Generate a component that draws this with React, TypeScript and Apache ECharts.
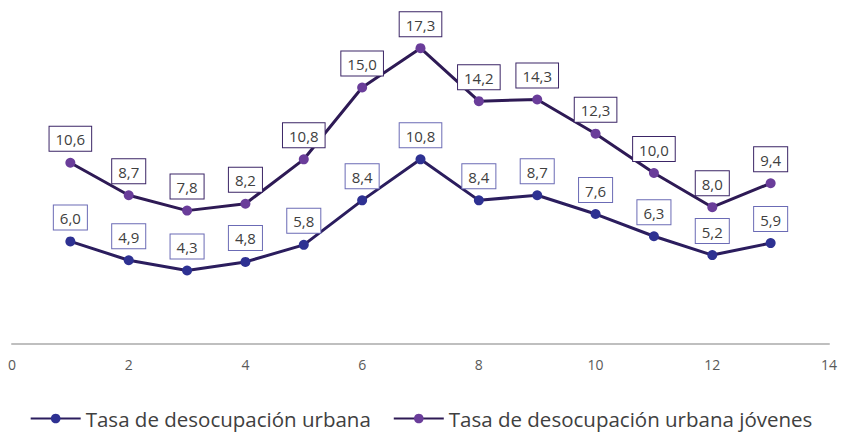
import React, { useEffect, useRef } from "react";
import * as echarts from "echarts";

const xValues = [1, 2, 3, 4, 5, 6, 7, 8, 9, 10, 11, 12, 13];
const urbana = [6.0, 4.9, 4.3, 4.8, 5.8, 8.4, 10.8, 8.4, 8.7, 7.6, 6.3, 5.2, 5.9];
const jovenes = [10.6, 8.7, 7.8, 8.2, 10.8, 15.0, 17.3, 14.2, 14.3, 12.3, 10.0, 8.0, 9.4];
const seriesNames = ["Tasa de desocupación urbana", "Tasa de desocupación urbana jóvenes"];

const fmt = (v: number) => v.toFixed(1).replace(".", ",");

export default function App() {
  const ref = useRef<HTMLDivElement>(null);
  useEffect(() => {
    if (!ref.current) return;
    const chart = echarts.init(ref.current, undefined, { renderer: "svg" });
    const font = "'Open Sans', 'Noto Sans', sans-serif";
    const mkLabel = (border: string) => ({
      show: true,
      position: "top" as const,
      distance: 7,
      formatter: (p: any) => fmt(p.value[1]),
      color: "#404040",
      fontFamily: font,
      fontSize: 15,
      lineHeight: 17,
      backgroundColor: "#ffffff",
      borderColor: border,
      borderWidth: 1,
      padding: [4, 6, 3, 6],
    });
    chart.setOption({
      animation: false,
      grid: { left: 12, right: 13, top: 2, bottom: 88, containLabel: false },
      legend: {
        bottom: -2,
        left: "center",
        itemWidth: 50,
        itemHeight: 12,
        itemGap: 22,
        textStyle: { color: "#404040", fontSize: 20.5, fontFamily: font },
        data: seriesNames,
      },
      xAxis: {
        type: "value",
        min: 0,
        max: 14,
        interval: 2,
        axisLine: { show: true, lineStyle: { color: "#bfbfbf", width: 2 } },
        axisTick: { show: false },
        splitLine: { show: false },
        axisLabel: { color: "#595959", fontSize: 14, fontFamily: font, margin: 13 },
      },
      yAxis: {
        type: "value",
        min: 0,
        max: 20,
        show: false,
        splitLine: { show: false },
      },
      series: [
        {
          name: seriesNames[0],
          type: "line",
          data: xValues.map((x, i) => [x, urbana[i]]),
          symbol: "circle",
          symbolSize: 10,
          lineStyle: { color: "#2b1d5e", width: 3 },
          itemStyle: { color: "#2e3192" },
          label: mkLabel("#6b6bb5"),
        },
        {
          name: seriesNames[1],
          type: "line",
          data: xValues.map((x, i) => [x, jovenes[i]]),
          symbol: "circle",
          symbolSize: 10,
          lineStyle: { color: "#2e1a55", width: 3 },
          itemStyle: { color: "#6a3d9a" },
          label: mkLabel("#3b2566"),
        },
      ],
    });
    return () => chart.dispose();
  }, []);
  return (
    <div
      ref={ref}
      style={{ position: "absolute", left: 0, top: 0, width: 842, height: 432 }}
    />
  );
}
